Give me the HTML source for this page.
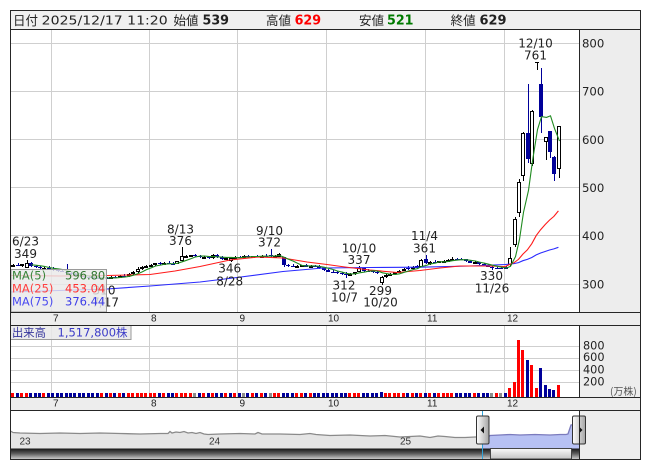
<!DOCTYPE html>
<html><head><meta charset="utf-8"><title>chart</title>
<style>html,body{margin:0;padding:0;background:#fff;width:653px;height:470px;overflow:hidden}svg{display:block}</style>
</head><body>
<svg id="svg" xmlns="http://www.w3.org/2000/svg" width="653" height="470" viewBox="0 0 653 470">
<defs>
 <linearGradient id="sb" x1="0" y1="0" x2="0" y2="1">
  <stop offset="0" stop-color="#151515"/><stop offset="0.45" stop-color="#5a5a5a"/><stop offset="1" stop-color="#d4d4d4"/>
 </linearGradient>
 <linearGradient id="th" x1="0" y1="0" x2="0" y2="1">
  <stop offset="0" stop-color="#fafafa"/><stop offset="1" stop-color="#c2c2c2"/>
 </linearGradient>
 <linearGradient id="hd" x1="0" y1="0" x2="1" y2="0">
  <stop offset="0" stop-color="#ffffff"/><stop offset="1" stop-color="#a4a4a4"/>
 </linearGradient>
</defs>
<rect x="0" y="0" width="653" height="470" fill="#fff"/>
<rect x="10" y="10" width="631" height="20" fill="#f0f0f0"/>
<rect x="580" y="30" width="61" height="283" fill="#ededed"/>
<rect x="10" y="313" width="631" height="12" fill="#ededed"/>
<rect x="580" y="326" width="61" height="71" fill="#ededed"/>
<rect x="10" y="398" width="631" height="12" fill="#ededed"/>
<rect x="580" y="411" width="61" height="48" fill="#ededed"/>

<g stroke="#cfcfcf" stroke-width="1" shape-rendering="crispEdges" fill="none">
 <path d="M10 43.5H580M10 91.5H580M10 139.5H580M10 187.5H580M10 235.5H580M10 284.5H580"/>
 <path d="M51.5 30V312M149.5 30V312M237.5 30V312M326.5 30V312M425.5 30V312M504.5 30V312"/>
 <path d="M10 346.5H580M10 358.5H580M10 370.5H580M10 382.5H580"/>
 <path d="M51.5 326V397M149.5 326V397M237.5 326V397M326.5 326V397M425.5 326V397M504.5 326V397"/>
</g>

<g id="cand"></g>
<g id="mas" fill="none">
 <polyline stroke="#2a2aff" stroke-width="1.1" points="11,292 107,289 150,286 200,282 237,277.5 283,271.5 323,268 370,267.5 420,267.2 470,266 505,264.5 509.6,264.1 514,263.6 518.5,262.6 522.9,260.7 527.3,259.4 531.8,257.5 536.2,254.9 540.6,253 545.1,251.5 549.5,250 553.9,248.9 558.4,247.3"/>
 <polyline stroke="#ff1a1a" stroke-width="1.1" points="11,275.5 60,276 107,275.5 150,274.5 175,271 200,266.5 230,260 258,257 283,258 307,262 327,264.5 345,267 370,270 397,272.5 420,270.5 440,268 460,266 487,266 505.2,266.5 509.6,264.5 514,262.7 518.5,259.4 522.9,254.1 527.3,249.9 531.8,243.7 536.2,235.6 540.6,229.7 545.1,224.6 549.5,220.1 553.9,216.4 558.4,210.9"/>
 <path id="ma5" stroke="#1f8a1f" stroke-width="1.1" d=""/>
</g>

<g font-family="DejaVu Sans, sans-serif" font-size="12" fill="#222" text-anchor="middle">
 <text x="25.5" y="245.5">6/23</text><text x="25.5" y="258">349</text>
 <text x="180.5" y="233.3">8/13</text><text x="180.5" y="245">376</text>
 <text x="269.5" y="235">9/10</text><text x="269.5" y="246.7">372</text>
 <text x="229.7" y="272.7">346</text><text x="229.7" y="285.5">8/28</text>
 <text x="359" y="252.7">10/10</text><text x="359" y="264">337</text>
 <text x="344" y="289.3">312</text><text x="344.5" y="301.7">10/7</text>
 <text x="380.5" y="295">299</text><text x="380.5" y="306.7">10/20</text>
 <text x="424.5" y="240">11/4</text><text x="424.5" y="252.3">361</text>
 <text x="491.5" y="280">330</text><text x="492" y="292.7">11/26</text>
 <text x="535.5" y="47.3">12/10</text><text x="535.5" y="59.3">761</text>
 <text x="104" y="294.3">310</text><text x="105.5" y="306.7">7/17</text>
</g>

<!-- MA legend -->
<rect x="11" y="269.5" width="95.5" height="42.5" fill="#e9e9e9" fill-opacity="0.82" stroke="#9a9a9a"/>
<g font-family="DejaVu Sans, sans-serif" font-size="11.5">
 <text x="12" y="279.5" fill="#3a843a">MA(5)</text><text x="65" y="279.5" fill="#2f752f">596.80</text>
 <text x="12" y="292.5" fill="#ff4040">MA(25)</text><text x="65" y="292.5" fill="#ff3030">453.04</text>
 <text x="12" y="305.5" fill="#4a4af0">MA(75)</text><text x="65" y="305.5" fill="#3d3de8">376.44</text>
</g>

<!-- price y labels -->
<g font-family="DejaVu Sans, sans-serif" font-size="11.7" fill="#222">
 <text x="582" y="47.5">800</text><text x="582" y="95.7">700</text><text x="582" y="143.8">600</text>
 <text x="582" y="192">500</text><text x="582" y="240.1">400</text><text x="582" y="288.3">300</text>
</g>

<!-- month labels -->
<g font-family="Liberation Sans, sans-serif" font-size="10" fill="#222">
 <text x="53" y="321.7">7</text><text x="151" y="321.7">8</text><text x="239.5" y="321.7">9</text>
 <text x="328" y="321.7">10</text><text x="427" y="321.7">11</text><text x="507" y="321.7">12</text>
 <text x="53" y="406.7">7</text><text x="151" y="406.7">8</text><text x="239.5" y="406.7">9</text>
 <text x="328" y="406.7">10</text><text x="427" y="406.7">11</text><text x="507" y="406.7">12</text>
</g>

<!-- volume -->
<g id="vol"></g>
<rect x="10.5" y="325.5" width="120.5" height="14" fill="#e9e9e9" fill-opacity="0.85" stroke="#9a9a9a"/>
<text x="12" y="336.5" font-family="Noto Sans CJK JP, sans-serif" font-size="11.3" fill="#35359c">出来高</text>
<text x="57.5" y="336.5" font-family="DejaVu Sans, Noto Sans CJK JP, sans-serif" font-size="11.5" fill="#3c3cc8">1,517,800<tspan font-family="Noto Sans CJK JP, sans-serif">株</tspan></text>
<g font-family="DejaVu Sans, sans-serif" font-size="11.3" fill="#222">
 <text x="583" y="349.3">800</text><text x="583" y="361.2">600</text><text x="583" y="373.3">400</text><text x="583" y="385.7">200</text>
</g>
<text x="610" y="395" font-family="Noto Sans CJK JP, sans-serif" font-size="10" fill="#555">(万株)</text>

<!-- navigator -->
<rect x="10" y="411" width="570" height="38" fill="#fff"/>
<polygon fill="#e5e5e5" points="10.5,431 13,432.5 20,433 40,433.5 60,433 80,433.5 100,433 120,433.5 140,434 160,433.5 168,433.5 170,431.5 172,433 176,432 180,432.5 184,431.5 188,433 192,432.5 196,433.5 200,432.5 204,434 208,434.5 220,434 240,433.5 255,434 258,432.5 262,434 280,434 300,434.5 310,433.5 316,434.5 330,435.5 350,435 370,436 385,435.5 395,436.5 400,437 410,436.5 420,436 430,437.5 438,436 445,436.5 455,437.5 465,437.5 475,437 482.5,437 482.5,448.5 10.5,448.5"/>
<polyline fill="none" stroke="#8a8a8a" stroke-width="1.3" points="10.5,431 13,432.5 20,433 40,433.5 60,433 80,433.5 100,433 120,433.5 140,434 160,433.5 168,433.5 170,431.5 172,433 176,432 180,432.5 184,431.5 188,433 192,432.5 196,433.5 200,432.5 204,434 208,434.5 220,434 240,433.5 255,434 258,432.5 262,434 280,434 300,434.5 310,433.5 316,434.5 330,435.5 350,435 370,436 385,435.5 395,436.5 400,437 410,436.5 420,436 430,437.5 438,436 445,436.5 455,437.5 465,437.5 475,437 482.5,437"/>
<polygon fill="#b7c1f3" points="482.5,437 488,437.5 490,435.5 500,435 510,434.5 520,435 535,434.5 550,435 560,434.5 566,434.5 568,434 571,425 579.5,424 579.5,448.5 482.5,448.5"/>
<polyline fill="none" stroke="#7b7bbd" stroke-width="1.3" points="482.5,437 488,437.5 490,435.5 500,435 510,434.5 520,435 535,434.5 550,435 560,434.5 566,434.5 568,434 571,425 579.5,424"/>
<g font-family="Liberation Sans, sans-serif" font-size="10" fill="#333">
 <text x="19.5" y="444.5">23</text><text x="209" y="444.5">24</text><text x="400" y="444.5">25</text>
</g>
<rect x="10.5" y="448.5" width="569" height="11" fill="url(#sb)"/>
<rect x="490.5" y="448.5" width="81" height="10.5" fill="url(#th)" stroke="#444"/>
<g stroke="#2fa3da" stroke-width="1" shape-rendering="crispEdges">
 <path d="M482.5 411V459M579.5 411V459"/>
</g>
<rect x="476.5" y="416" width="12.5" height="28" rx="1.5" fill="url(#hd)" stroke="#333"/>
<polygon points="480.5,430 484,426.5 484,433.5" fill="#111"/>
<rect x="572.5" y="416" width="13" height="28" rx="1.5" fill="url(#hd)" stroke="#333"/>
<polygon points="582.5,430 579,426.5 579,433.5" fill="#111"/>

<!-- header -->
<g font-size="12.5" fill="#222">
 <text x="13" y="25" font-family="Noto Sans CJK JP, sans-serif">日付</text>
 <text x="41.7" y="24.3" font-family="DejaVu Sans, sans-serif" textLength="126" lengthAdjust="spacingAndGlyphs">2025/12/17 11:20</text>
 <text x="173.5" y="25" font-family="Noto Sans CJK JP, sans-serif">始値</text>
 <text x="266" y="25" font-family="Noto Sans CJK JP, sans-serif">高値</text>
 <text x="359" y="25" font-family="Noto Sans CJK JP, sans-serif">安値</text>
 <text x="450.6" y="25" font-family="Noto Sans CJK JP, sans-serif">終値</text>
</g>
<g font-family="DejaVu Sans, sans-serif" font-size="13" font-weight="bold">
 <text x="202.5" y="24.5" fill="#222" textLength="26.5" lengthAdjust="spacingAndGlyphs">539</text>
 <text x="294.6" y="24.5" fill="#ff0000" textLength="26.5" lengthAdjust="spacingAndGlyphs">629</text>
 <text x="387" y="24.5" fill="#007a00" textLength="26.5" lengthAdjust="spacingAndGlyphs">521</text>
 <text x="479.5" y="24.5" fill="#222" textLength="27" lengthAdjust="spacingAndGlyphs">629</text>
</g>

<!-- frame -->
<g stroke="#262626" stroke-width="1" fill="none" shape-rendering="crispEdges">
 <rect x="10.5" y="10.5" width="630" height="449"/>
 <path d="M10 29.5H641M10 312.5H641M10 325.5H641M10 397.5H641M10 410.5H641"/>
 <path d="M579.5 29.5V312.5M579.5 325.5V397.5M579.5 410.5V459.5"/>
</g>
</svg>
<script>
(function(){
var D=[
[338,341,335,340],[340,343,337,338],[338,342,336,341],[334,349,333,344],[344,345,335,337],[338,340,333,335],[335,337,331,333],[333,336,330,334],[334,338,331,332],
[332,336,328,330],[330,332,326,328],[328,331,325,327],[326,342,322,323],[323,326,318,320],[320,323,316,318],[318,321,314,316],[316,319,313,315],[315,317,312,314],[314,316,311,313],[313,316,311,312],[312,314,311,313],[313,315,310,312],[312,316,311,314],[314,316,312,313],[313,318,312,317],[317,320,315,316],[316,322,315,320],[320,327,319,326],[325,336,322,331],[331,337,329,335],[335,340,333,338],
[338,342,336,340],[340,344,338,343],[343,346,340,341],[342,346,341,344],[344,347,341,342],[342,346,341,341],[342,348,341,347],[347,376,346,358],[358,360,355,359],[359,361,356,360],[360,362,356,358],[358,360,354,356],[356,359,353,357],[357,359,352,354],[354,362,353,360],[361,362,355,356],[356,358,350,352],[352,356,349,355],[348,356,346,354],[354,358,352,357],
[357,359,354,356],[356,360,355,358],[358,360,355,357],[357,359,354,358],[358,361,356,357],[357,360,355,359],[359,362,356,358],[360,372,356,358],[358,361,356,359],[357,364,356,362],[356,357,336,340],[340,342,336,338],[338,341,335,337],[337,340,335,338],[338,340,336,339],[340,341,335,336],[336,339,334,338],[338,340,335,337],[337,339,332,333],[334,336,328,330],
[330,332,324,326],[326,329,322,324],[325,327,320,322],[322,325,318,321],[321,324,312,318],[318,322,316,320],[320,326,319,325],[326,337,324,333],[333,334,326,328],[328,331,325,327],[327,330,323,325],[325,327,320,322],[303,316,299,315],[315,321,313,319],[318,322,316,320],[320,326,319,324],[324,330,323,328],[328,334,327,332],[334,337,330,331],[331,338,330,336],[337,339,331,333],[336,351,335,350],
[352,361,342,344],[342,348,340,346],[346,349,343,345],[345,348,343,347],[347,350,345,348],[348,351,346,349],[348,356,347,353],[353,355,350,352],[352,354,349,351],[352,353,345,347],[347,349,343,344],[344,347,342,345],[345,346,340,341],[341,343,338,340],[340,341,335,336],[335,337,330,334],[334,336,332,333],[334,335,331,332],
[336,337,331,331],[340,377,338,354],[381,440,377,435],[447,518,440,512],[525,616,515,613],[613,715,551,559],[549,661,545,659],[761,761,745,761],[715,749,613,647],[594,606,558,605],[617,618,562,575],[564,566,515,528],[539,629,521,629]
];
var X0=12.9,DX=4.435,BL='#000099';
function Y(p){return 43.3+(800-p)*0.4815;}
var s='',v='',m='';
var VH={83:5,111:4,112:9,113:15,114:57,115:47,116:37,117:32,118:9,119:29,120:12,121:8,122:7,123:12};
var VC={41:'#8c8c8c',52:'#8c8c8c',108:'#8c8c8c',109:'#ff0000',110:'#8c8c8c'};
for(var i=0;i<D.length;i++){
 var d=D[i],o=d[0],h=d[1],l=d[2],c=d[3];
 var L=Math.round(X0+i*DX-1.5);
 var yh=Math.round(Y(h)),yl=Math.round(Y(l)),yo=Math.round(Y(o)),yc=Math.round(Y(c));
 if(c>o){
  s+='<rect x="'+(L+2)+'" y="'+yh+'" width="1" height="'+Math.max(yl-yh,1)+'" fill="#000"/>';
  s+='<rect x="'+(L+0.5)+'" y="'+(yc+0.5)+'" width="3" height="'+Math.max(yo-yc-1,1)+'" fill="#fff" stroke="#000"/>';
 }else if(c<o){
  s+='<rect x="'+(L+2)+'" y="'+yh+'" width="1" height="'+Math.max(yl-yh,1)+'" fill="'+BL+'"/>';
  s+='<rect x="'+L+'" y="'+yo+'" width="4" height="'+Math.max(yc-yo,1)+'" fill="'+BL+'"/>';
 }else{
  s+='<rect x="'+(L+2)+'" y="'+yh+'" width="1" height="'+Math.max(yl-yh,1)+'" fill="#000"/>';
  s+='<rect x="'+L+'" y="'+yo+'" width="4" height="1" fill="#000"/>';
 }
 if(i>=4){
  var a=0;for(var k=i-4;k<=i;k++)a+=D[k][3];a/=5;
  m+=(i==4?'M':'L')+(L+2.5)+' '+Y(a).toFixed(1)+' ';
 }
 var vh=VH[i]||4;
 var col;
 if(VC[i])col=VC[i];else if(i==0)col='#ff0000';else{var pc=D[i-1][3];col=c>pc?'#ff0000':(c<pc?BL:'#8c8c8c');}
 if(i==111)col=BL;
 v+='<rect x="'+L+'" y="'+(397-vh)+'" width="3" height="'+vh+'" fill="'+col+'"/>';
}
document.getElementById('cand').innerHTML=s;
document.getElementById('vol').innerHTML=v;
document.getElementById('ma5').setAttribute('d',m);
})();
</script>
</body></html>
